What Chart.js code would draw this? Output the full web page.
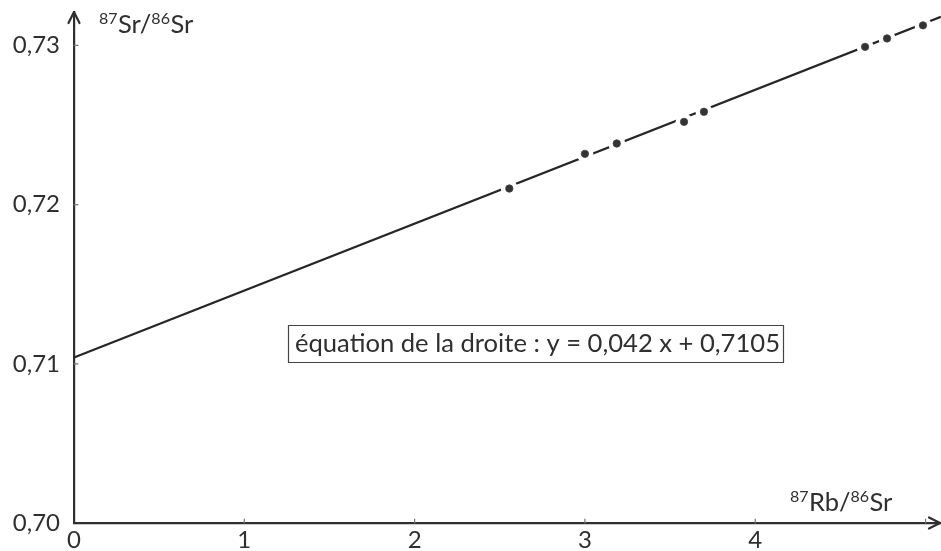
<!DOCTYPE html>
<html><head><meta charset="utf-8">
<script src="https://cdn.jsdelivr.net/npm/chart.js@4/dist/chart.umd.min.js"></script>
<style>html,body{margin:0;padding:0;background:#fff;overflow:hidden}#wrap{width:941px;height:551px;position:relative}</style>
</head><body><div id="wrap"><canvas id="c" width="941" height="551"></canvas></div>
<script>
// Data
const ratioRb = [2.556, 3.000, 3.187, 3.582, 3.699, 4.645, 4.774, 4.985];   // 87Rb/86Sr
const ratioSr = [0.72101, 0.72319, 0.72384, 0.72520, 0.72583, 0.72991, 0.73044, 0.73126]; // 87Sr/86Sr
const lineX = [0, 5.09];
const lineY = [0.7104, 0.7318];
const xTicks = [0, 1, 2, 3, 4];
const xMarks = [1, 2, 3, 4, 5];
const yTicks = [0.70, 0.71, 0.72, 0.73];
const yMarks = [0.71, 0.72, 0.73];
const yTitle = [['87', true], ['Sr/', false], ['86', true], ['Sr', false]];
const xTitle = [['87', true], ['Rb/', false], ['86', true], ['Sr', false]];
const equationText = 'équation de la droite : y = 0,042 x + 0,7105';

const FONT = 'Lato, "Open Sans", sans-serif';
const ink = '#2f2f2f';

function drawRich(ctx, parts, x, baseline) {
  let cx = x;
  parts.forEach(([t, sup]) => {
    ctx.font = (sup ? '16px ' : '25.5px ') + FONT;
    ctx.fillText(t, cx, sup ? baseline - 9.5 : baseline);
    cx += ctx.measureText(t).width + (sup ? 0.5 : 0);
  });
}

const decor = {
  id: 'decor',
  afterDraw(chart) {
    const { ctx, chartArea: a, scales: { x, y } } = chart;
    ctx.save();
    ctx.strokeStyle = ink; ctx.fillStyle = ink;
    ctx.lineWidth = 2.2; ctx.lineCap = 'round'; ctx.lineJoin = 'round';
    ctx.beginPath(); ctx.moveTo(a.left - 5.5, a.top + 11); ctx.lineTo(a.left, a.top); ctx.lineTo(a.left + 5.5, a.top + 11); ctx.stroke();
    ctx.beginPath(); ctx.moveTo(a.right - 11, a.bottom - 5.5); ctx.lineTo(a.right, a.bottom); ctx.lineTo(a.right - 11, a.bottom + 5.5); ctx.stroke();
    ctx.lineWidth = 1.2; ctx.strokeStyle = '#777';
    xMarks.forEach(v => { const p = x.getPixelForValue(v); ctx.beginPath(); ctx.moveTo(p, a.bottom); ctx.lineTo(p, a.bottom - 4); ctx.stroke(); });
    yMarks.forEach(v => { const p = y.getPixelForValue(v); ctx.beginPath(); ctx.moveTo(a.left, p); ctx.lineTo(a.left + 4, p); ctx.stroke(); });
    ctx.fillStyle = ink; ctx.textBaseline = 'alphabetic'; ctx.textAlign = 'left';
    drawRich(ctx, yTitle, 99, 33);
    drawRich(ctx, xTitle, 790, 511);
    ctx.font = '25.6px ' + FONT;
    const w = ctx.measureText(equationText).width;
    ctx.fillText(equationText, 295, 352);
    ctx.strokeStyle = '#444'; ctx.lineWidth = 1.2;
    ctx.strokeRect(288.5, 325.5, w + 10, 37);
    ctx.restore();
  }
};

function fixPad(s) { s.paddingTop = 0; s.paddingBottom = 0; s.paddingLeft = 0; s.paddingRight = 0; }

const pts = ratioRb.map((v, i) => ({ x: v, y: ratioSr[i] }));
new Chart(document.getElementById('c'), {
  type: 'scatter',
  data: {
    datasets: [
      { label: 'mesures', data: pts, pointRadius: 3.7, pointBackgroundColor: '#333', pointBorderColor: '#444', pointBorderWidth: 0.8, order: 0 },
      { label: 'halo', data: pts, pointRadius: 8.5, pointBackgroundColor: '#fff', pointBorderWidth: 0, order: 1 },
      { label: 'droite', data: lineX.map((v, i) => ({ x: v, y: lineY[i] })), showLine: true, borderColor: '#262626', borderWidth: 2.2, pointRadius: 0, order: 2, clip: false }
    ]
  },
  options: {
    responsive: false, animation: false, events: [],
    layout: { autoPadding: false, padding: { top: 12, right: 1, left: 0, bottom: 0 } },
    plugins: { legend: { display: false }, tooltip: { enabled: false } },
    scales: {
      x: {
        type: 'linear', min: 0, max: 5.085,
        grid: { display: false, drawTicks: false },
        border: { display: true, color: ink, width: 2.2 },
        afterFit: s => { s.height = 28; fixPad(s); },
        afterBuildTicks: s => { s.ticks = xTicks.map(v => ({ value: v })); },
        ticks: { padding: 3, color: ink, font: { family: FONT, size: 24 }, callback: v => String(v), maxRotation: 0, autoSkip: false }
      },
      y: {
        type: 'linear', min: 0.70, max: 0.7321,
        grid: { display: false, drawTicks: false },
        border: { display: true, color: ink, width: 2.2 },
        afterFit: s => { s.width = 74; fixPad(s); },
        afterBuildTicks: s => { s.ticks = yTicks.map(v => ({ value: v })); },
        ticks: { padding: 14, color: ink, font: { family: FONT, size: 24 }, callback: v => v.toFixed(2).replace('.', ','), autoSkip: false }
      }
    }
  },
  plugins: [decor]
});
</script>
</body></html>
